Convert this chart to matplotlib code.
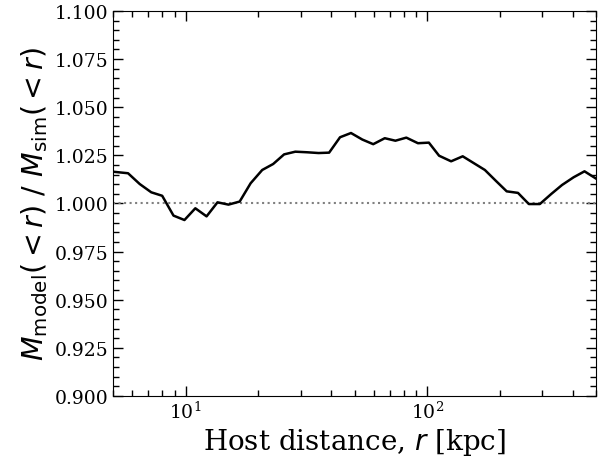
import matplotlib
matplotlib.use("Agg")
import matplotlib.pyplot as plt
from matplotlib.ticker import MultipleLocator

plt.rcParams['font.family'] = ['DejaVu Serif']
plt.rcParams['mathtext.fontset'] = 'dejavusans'

r_kpc = [5.0, 5.77, 6.45, 7.20, 7.99, 8.90, 9.88, 10.96, 12.20, 13.54, 15.03,
         16.73, 18.57, 20.74, 23.02, 25.55, 28.44, 31.78, 35.49, 39.25, 43.56,
         48.35, 53.87, 59.77, 66.72, 73.85, 81.95, 91.56, 101.6, 112.0, 125.6,
         140.3, 155.7, 173.3, 192.3, 213.4, 237.6, 263.6, 292.7, 326.1, 361.7,
         403.8, 448.1, 497.5]
ratio = [1.0165, 1.0157, 1.0101, 1.0058, 1.0040, 0.9937, 0.9914, 0.9975, 0.9933,
         1.0006, 0.9994, 1.0010, 1.0105, 1.0174, 1.0205, 1.0255, 1.0269, 1.0266,
         1.0262, 1.0264, 1.0344, 1.0366, 1.0332, 1.0308, 1.0339, 1.0326, 1.0342,
         1.0313, 1.0316, 1.0248, 1.0219, 1.0245, 1.0210, 1.0174, 1.0118, 1.0063,
         1.0055, 0.9997, 0.9997, 1.0049, 1.0096, 1.0136, 1.0167, 1.0131]

fig = plt.figure(figsize=(6.06, 4.60), dpi=100)
ax = fig.add_axes([0.1865, 0.137, 0.797, 0.837])
ax.axhline(1.0, color='gray', linestyle=':', lw=1.5)
ax.plot(r_kpc, ratio, color='black', lw=1.8)
ax.set_xscale('log')
ax.set_xlim(5, 500)
ax.set_ylim(0.9, 1.1)
ax.yaxis.set_major_locator(MultipleLocator(0.025))
ax.yaxis.set_minor_locator(MultipleLocator(0.005))
ax.yaxis.set_major_formatter(matplotlib.ticker.FormatStrFormatter('%.3f'))
ax.tick_params(which='both', direction='in', top=True, right=True, labelsize=13.5)
ax.tick_params(which='major', length=7, width=1)
ax.tick_params(which='minor', length=4, width=1)
ax.set_xlabel(r'Host distance, $r$ [kpc]', fontsize=20, labelpad=3)
ax.set_ylabel(r'$M_{\rm model}(<r)\ /\ M_{\rm sim}(<r)$', fontsize=20.5, labelpad=3)
fig.savefig('out.png', dpi=100)
